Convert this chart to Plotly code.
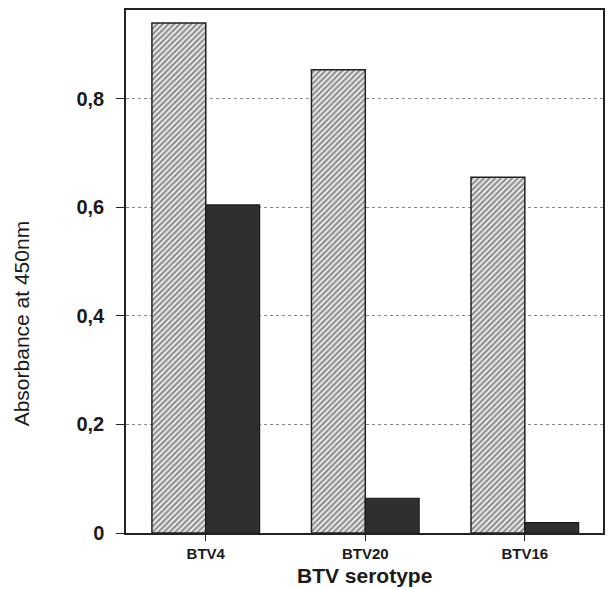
import plotly.graph_objects as go

categories = ["BTV4", "BTV20", "BTV16"]
hatched_values = [0.939, 0.853, 0.655]
dark_values = [0.604, 0.064, 0.019]
y_tick_vals = [0, 0.2, 0.4, 0.6, 0.8]
y_tick_text = ["0", "0,2", "0,4", "0,6", "0,8"]

FONT = "Liberation Sans, Arial, sans-serif"

fig = go.Figure()
fig.add_trace(go.Bar(
    x=categories, y=hatched_values,
    marker=dict(color="white",
                line=dict(color="#222222", width=1.5),
                pattern=dict(shape="/", fgcolor="#2a2a2a", bgcolor="#f4f4f4",
                             size=4, solidity=0.55)),
    showlegend=False,
))
fig.add_trace(go.Bar(
    x=categories, y=dark_values,
    marker=dict(color="#2f2f2f", line=dict(color="#1a1a1a", width=1.2)),
    showlegend=False,
))

fig.update_layout(
    width=609, height=589,
    margin=dict(l=126, r=4, t=10, b=56),
    paper_bgcolor="white", plot_bgcolor="white",
    barmode="group", bargap=0.325, bargroupgap=0,
    font=dict(family=FONT, color="#1a1a1a"),
    xaxis=dict(
        range=[-0.5, 2.49],
        showline=True, linecolor="#222222", linewidth=1.5, mirror=True,
        ticks="outside", ticklen=6, tickcolor="#222222",
        tickfont=dict(size=15, family=FONT, weight="bold"),
        showgrid=False,
    ),
    yaxis=dict(
        range=[0, 0.963],
        tickvals=y_tick_vals, ticktext=y_tick_text,
        showline=True, linecolor="#222222", linewidth=1.5, mirror=True,
        ticks="outside", ticklen=8, tickcolor="#222222",
        ticklabelstandoff=8,
        tickfont=dict(size=20, family=FONT, weight="bold"),
        showgrid=True, gridcolor="#8a8a8a", griddash="dot", gridwidth=1,
        zeroline=False,
    ),
    annotations=[
        dict(
            text="Absorbance at 450nm", xref="paper", yref="paper",
            x=-0.219, y=0.40, textangle=-90, showarrow=False,
            xanchor="center", yanchor="middle",
            font=dict(size=21, family=FONT, color="#1a1a1a"),
        ),
        dict(
            text="<b>BTV serotype</b>", xref="paper", yref="paper",
            x=0.5, y=-0.081, showarrow=False,
            xanchor="center", yanchor="middle",
            font=dict(size=21, family=FONT, color="#1a1a1a"),
        ),
    ],
)

fig.write_html("out.html")
